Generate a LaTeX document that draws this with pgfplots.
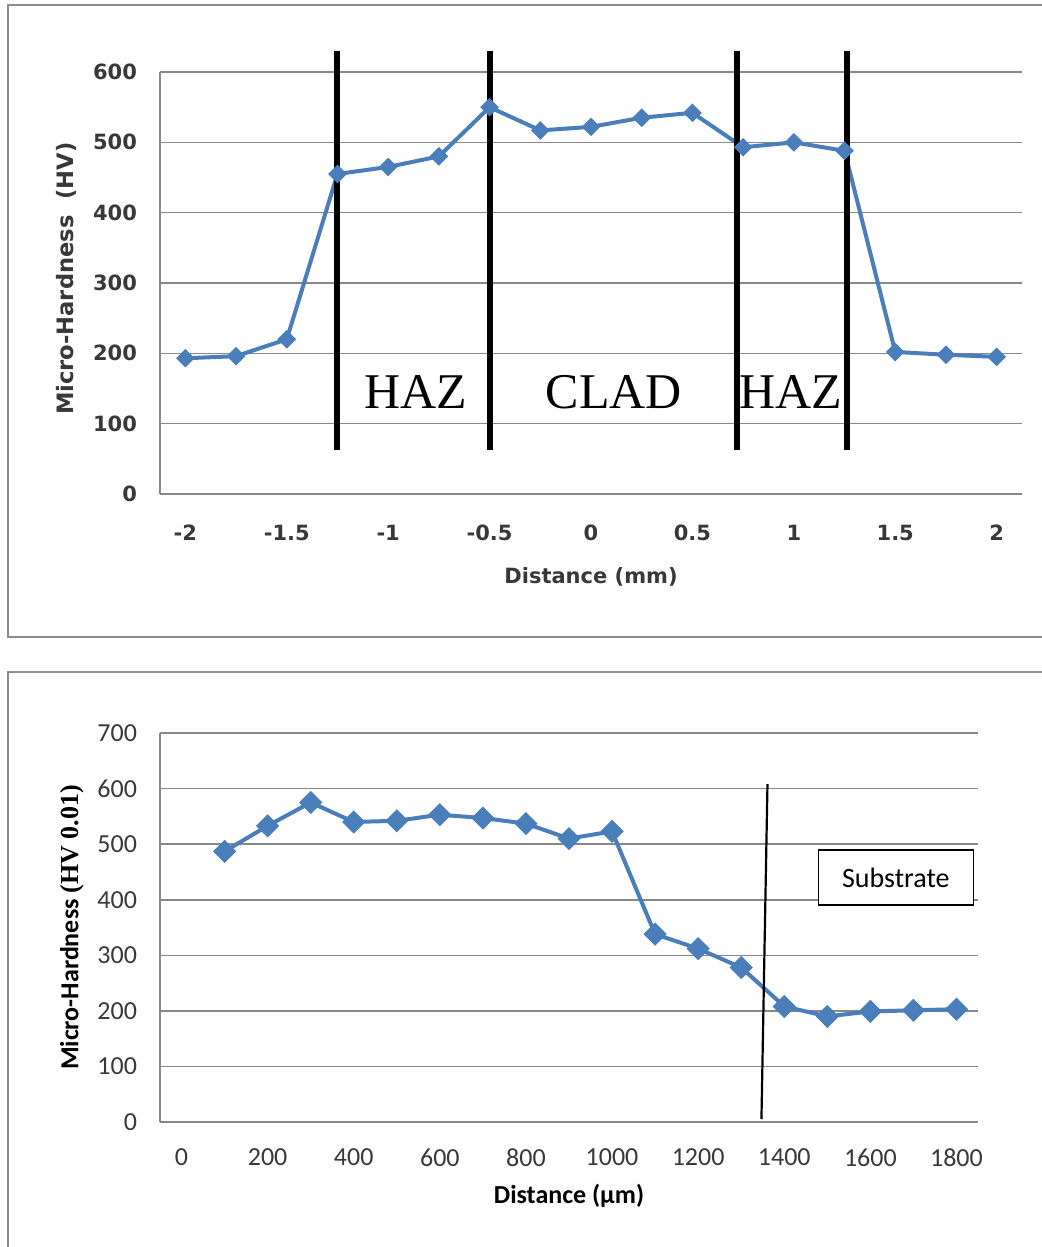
\documentclass[border=0pt]{standalone}
\usepackage{pgfplots}
\pgfplotsset{compat=1.18}
\usepackage{fontspec}
\setmainfont{DejaVu Sans}
\newfontfamily\verdanafont{DejaVu Sans}
\newfontfamily\calibrifont{Carlito}
\newfontfamily\serifont{Liberation Serif}
\definecolor{lineblue}{HTML}{4A7EBB}
\definecolor{gridgray}{HTML}{888888}
\definecolor{framegray}{HTML}{8C8C8C}
\definecolor{ticktext}{HTML}{383838}

\begin{document}
\begin{tikzpicture}
\useasboundingbox (0,0) rectangle (520.5pt,-623.5pt);
% outer frames of the two panels
\draw[framegray, line width=0.9pt] (530pt,-2.5pt) -- (4pt,-2.5pt) -- (4pt,-318.5pt) -- (530pt,-318.5pt);
\draw[framegray, line width=0.9pt] (530pt,-336pt) -- (4pt,-336pt) -- (4pt,-640pt);

% ---------- hardness across the clad (mm) ----------
\begin{axis}[
  at={(80pt,-247pt)}, anchor=south west,
  scale only axis, width=431pt, height=211pt,
  xmin=-2.125, xmax=2.125, ymin=0, ymax=600,
  clip=false,
  axis lines=left,
  axis line style={-, draw=gridgray, line width=0.8pt},
  major tick length=0pt,
  ymajorgrids, grid style={gridgray, line width=0.8pt},
  xtick={-2,-1.5,-1,-0.5,0,0.5,1,1.5,2},
  xticklabels={-2,-1.5,-1,-0.5,0,0.5,1,1.5,2},
  ytick={0,100,200,300,400,500,600},
  yticklabels={0,100,200,300,400,500,600},
  ticklabel style={font=\verdanafont\bfseries\fontsize{10.5pt}{12pt}\selectfont, text=ticktext},
  yticklabel style={xshift=-8pt},
  xticklabel style={yshift=-12pt},
  xlabel={Distance (mm)},
  ylabel={Micro-Hardness\ \ (HV)},
  label style={font=\verdanafont\bfseries\fontsize{10.5pt}{12pt}\selectfont, text=ticktext},
  xlabel style={at={(axis description cs:0.5,-0.197)}, anchor=center},
  ylabel style={at={(axis description cs:-0.109,0.51)}, anchor=center,
    font=\verdanafont\bfseries\fontsize{11.3pt}{13pt}\selectfont},
]
\addplot[lineblue, line width=2pt, mark=square*, mark size=2.3pt,
  mark options={rotate=45, solid, fill=lineblue}] coordinates {
  (-2,193) (-1.75,196) (-1.5,220) (-1.25,455) (-1,465) (-0.75,480)
  (-0.5,550) (-0.25,517) (0,522) (0.25,535) (0.5,542) (0.75,493)
  (1,500) (1.25,488) (1.5,202) (1.75,198) (2,195)};
% zone boundaries
\addplot[black, line width=3pt] coordinates {(-1.25,62) (-1.25,630)};
\addplot[black, line width=3pt] coordinates {(-0.5,62) (-0.5,630)};
\addplot[black, line width=3pt] coordinates {(0.72,62) (0.72,630)};
\addplot[black, line width=3pt] coordinates {(1.26,62) (1.26,630)};
\node[font=\serifont\fontsize{25pt}{28pt}\selectfont, inner sep=0pt] at (axis cs:-0.862,145) {HAZ};
\node[font=\serifont\fontsize{25pt}{28pt}\selectfont, inner sep=0pt] at (axis cs:0.113,145) {CLAD};
\node[font=\serifont\fontsize{25pt}{28pt}\selectfont, inner sep=0pt] at (axis cs:0.985,145) {HAZ};
\end{axis}

% ---------- hardness profile (micrometres) ----------
\begin{axis}[
  at={(80pt,-561pt)}, anchor=south west,
  scale only axis, width=409pt, height=194.5pt,
  xmin=-50, xmax=1850, ymin=0, ymax=700,
  clip=false,
  axis lines=left,
  axis line style={-, draw=gridgray, line width=0.8pt},
  major tick length=0pt,
  ymajorgrids, grid style={gridgray, line width=0.8pt},
  xtick={0,200,400,600,800,1000,1200,1400,1600,1800},
  xticklabels={0,200,400,600,800,1000,1200,1400,1600,1800},
  ytick={0,100,200,300,400,500,600,700},
  yticklabels={0,100,200,300,400,500,600,700},
  ticklabel style={font=\calibrifont\fontsize{13pt}{15pt}\selectfont, text=ticktext},
  yticklabel style={xshift=-8pt},
  xticklabel style={yshift=-10pt},
  xlabel={Distance (µm)},
  ylabel={{\calibrifont\bfseries Micro-Hardness} {\serifont\bfseries (HV 0.01)}},
  label style={font=\calibrifont\bfseries\fontsize{13pt}{15pt}\selectfont, text=black},
  xlabel style={at={(axis description cs:0.5,-0.190)}, anchor=center},
  ylabel style={at={(axis description cs:-0.1076,0.5)}, anchor=center},
]
\addplot[lineblue, line width=2pt, mark=square*, mark size=3.1pt,
  mark options={rotate=45, solid, fill=lineblue}] coordinates {
  (100,487) (200,533) (300,575) (400,540) (500,542) (600,553)
  (700,547) (800,537) (900,510) (1000,523) (1100,338) (1200,312)
  (1300,278) (1400,208) (1500,190) (1600,199) (1700,201) (1800,203)};
% interface with the substrate
\addplot[black, line width=1.1pt] coordinates {(1361,608) (1347,5)};
\node[draw=black, line width=0.6pt, fill=white, minimum width=77.5pt, minimum height=27.5pt,
  inner sep=0pt, font=\calibrifont\fontsize{14pt}{16pt}\selectfont] at (axis cs:1659,440) {Substrate};
\end{axis}
\end{tikzpicture}
\end{document}
